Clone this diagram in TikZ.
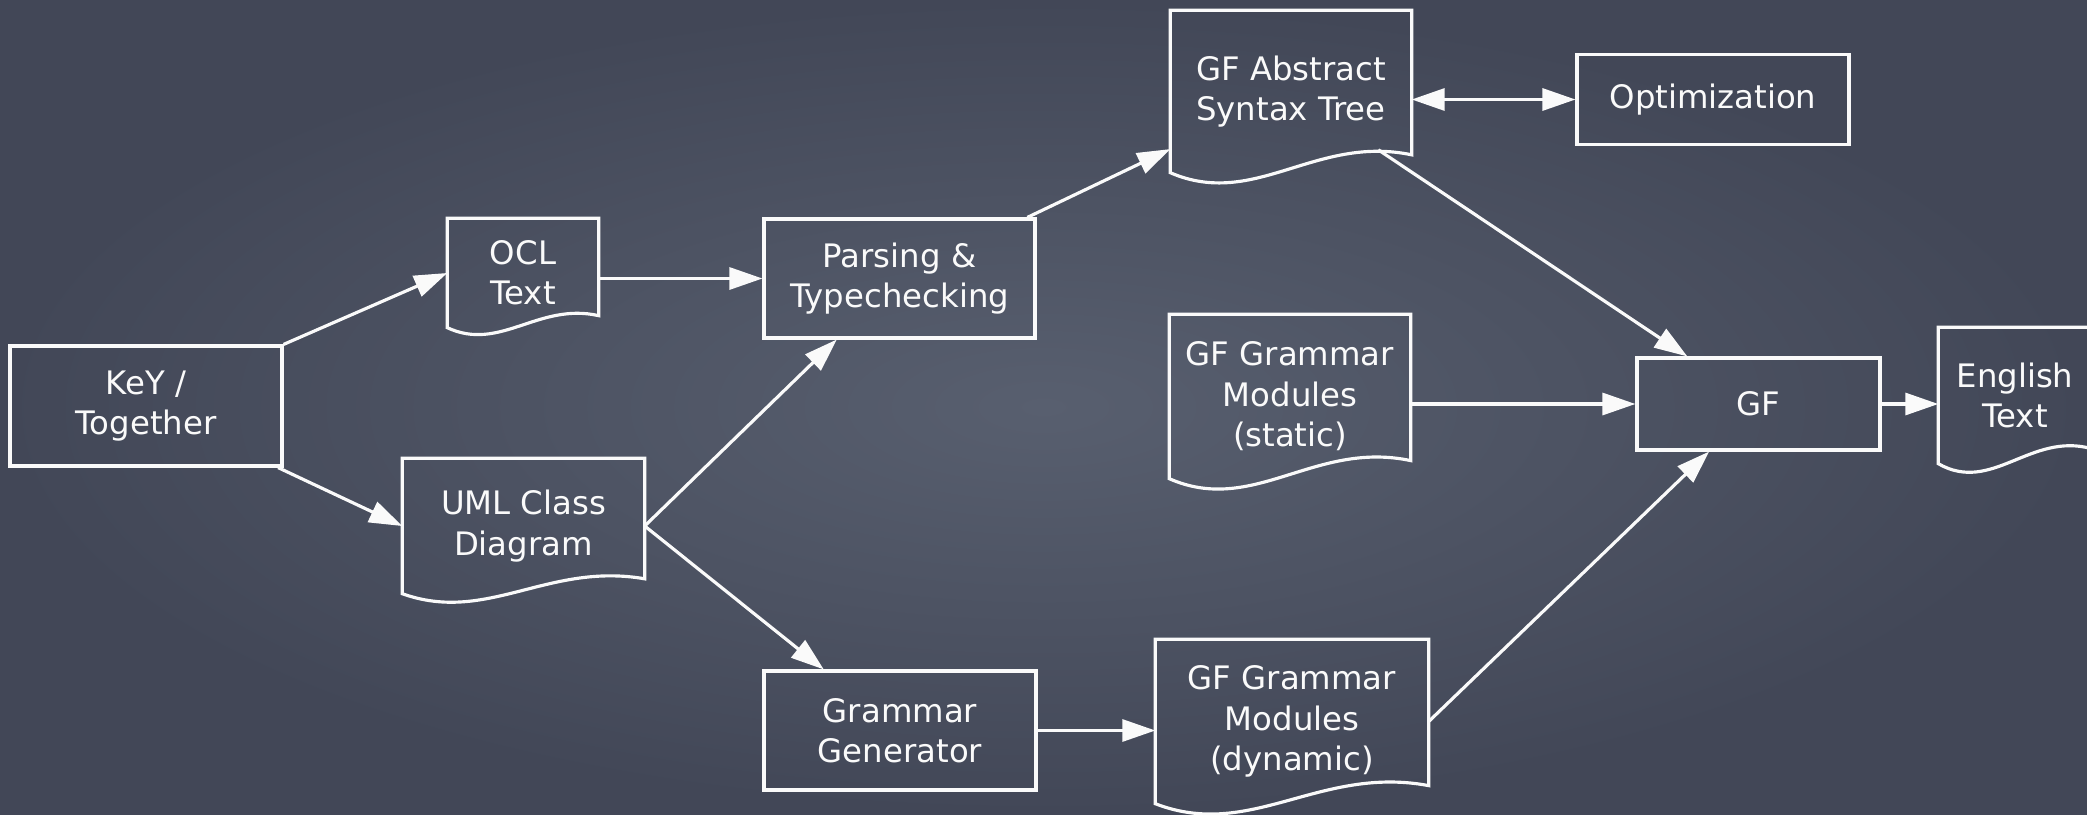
\documentclass[tikz,border=0pt]{standalone}
\usepackage{fontspec}
\setmainfont{DejaVu Sans}
\usetikzlibrary{arrows.meta,calc}

\definecolor{chalk}{RGB}{250,250,250}
\definecolor{slatein}{RGB}{88,95,111}
\definecolor{slateout}{RGB}{66,71,87}

\tikzset{
  box/.style={draw=chalk, line width=0.9pt, text=chalk, align=center, inner sep=0pt},
  doc/.style={text=chalk, align=center, inner sep=0pt},
  link/.style={draw=chalk, line width=0.9pt},
}

% page outline with the wavy bottom
\newcommand{\docoutline}[1]{%
\draw[link]
let \p1=(#1.north west), \p2=(#1.south east),
\n1={\x2-\x1}, \n2={\y1-\y2} in
(\x1,\y2) -- (\p1) -- (\x2,\y1) -- (\x2,{\y2+0.11*\n2})
.. controls ({\x2-0.4*\n1},{\y2+0.235*\n2}) and ({\x1+0.35*\n1},{\y2-0.225*\n2}) .. (\x1,\y2)
-- cycle;}

\begin{document}
\begin{tikzpicture}[scale=1,
>={Triangle[length=0.33cm,width=0.22cm]},
every node/.style={font=\fontsize{9.2}{11.5}\selectfont}]

\useasboundingbox (0,0) rectangle (20.87,-8.14);
\shade[inner color=slatein, outer color=slateout]
(0,0) rectangle (20.87,-8.14);

\node[box, minimum width=2.72cm, minimum height=1.2cm]
(key)
at (1.46,-4.06)
{KeY /\\Together};

\node[doc, minimum width=1.5cm, minimum height=1.08cm]
(ocl)
at (5.23,-2.73)
{OCL\\Text};

\node[doc, minimum width=2.41cm, minimum height=1.34cm]
(uml)
at (5.235,-5.26)
{UML Class\\Diagram};

\node[box, minimum width=2.71cm, minimum height=1.19cm]
(parse)
at (8.995,-2.785)
{Parsing \&\\Typechecking};

\node[doc, minimum width=2.4cm, minimum height=1.61cm]
(ast)
at (12.91,-0.915)
{GF Abstract\\Syntax Tree};

\node[box, minimum width=2.72cm, minimum height=0.9cm]
(opt)
at (17.13,-0.995)
{Optimization};

\node[doc, minimum width=2.4cm, minimum height=1.63cm]
(static)
at (12.9,-3.965)
{GF Grammar\\Modules\\(static)};

\node[box, minimum width=2.43cm, minimum height=0.92cm]
(gf)
at (17.585,-4.04)
{GF};

\node[doc, minimum width=1.52cm, minimum height=1.35cm]
(eng)
at (20.15,-3.955)
{English\\Text};

\node[box, minimum width=2.72cm, minimum height=1.19cm]
(gen)
at (9,-7.305)
{Grammar\\Generator};

\node[doc, minimum width=2.72cm, minimum height=1.63cm]
(dyn)
at (12.92,-7.215)
{GF Grammar\\Modules\\(dynamic)};

\docoutline{ocl}
\docoutline{uml}
\docoutline{ast}
\docoutline{static}
\docoutline{eng}
\docoutline{dyn}

\draw[->,link]
(key.north east)
--
(ocl.west);

\draw[->,link]
(key.-25)
--
(uml.west);

\draw[->,link]
(ocl.east |- parse.west)
--
(parse.west);

\draw[->,link]
(uml.east)
--
(parse);

\draw[->,link]
(uml.east)
--
(gen);

\draw[->,link]
(parse)
--
(ast);

\draw[<->,link]
(ast.east |- opt.west)
--
(opt.west);

\draw[->,link,shorten <=1.05cm]
(ast.center)
--
(gf);

\draw[->,link]
(static.east |- gf.west)
--
(gf.west);

\draw[->,link]
(gen.east)
--
(gen.east -| dyn.west);

\draw[->,link]
(dyn.east)
--
(gf);

\draw[->,link]
(gf.east)
--
(gf.east -| eng.west);

\end{tikzpicture}
\end{document}
